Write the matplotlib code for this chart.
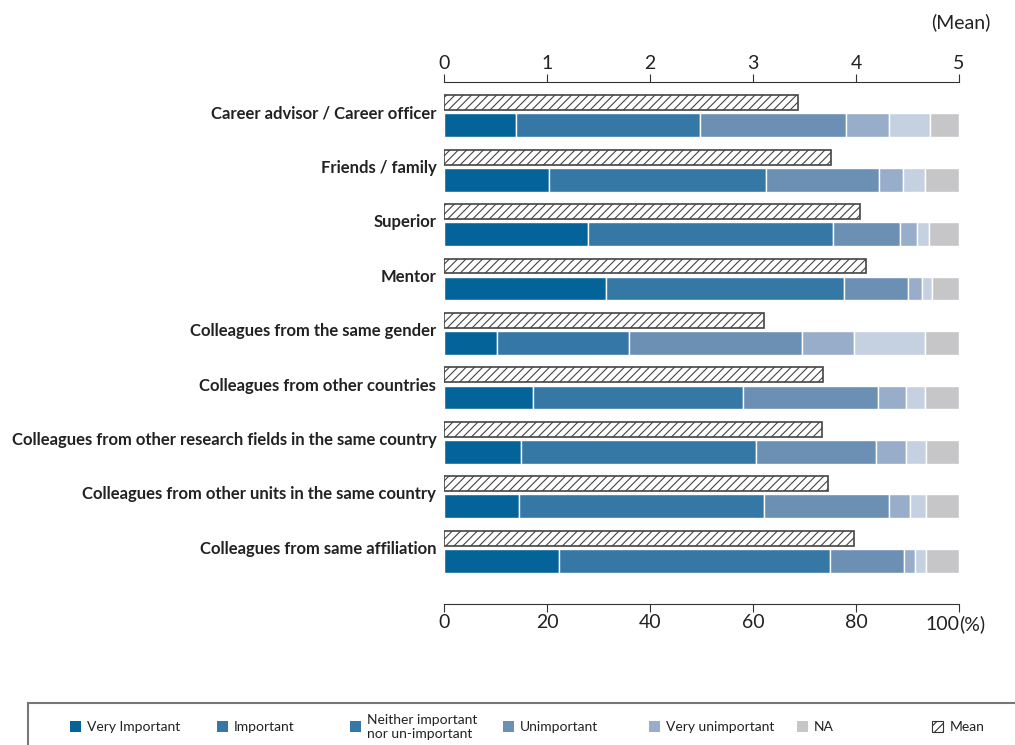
import matplotlib
matplotlib.use("Agg")
import matplotlib.pyplot as plt
import numpy as np
from matplotlib.patches import Rectangle

plt.rcParams['font.family'] = ['Lato', 'DejaVu Sans']
plt.rcParams['hatch.linewidth'] = 0.8

# data
categories = ["Career advisor / Career officer", "Friends / family", "Superior", "Mentor",
              "Colleagues from the same gender", "Colleagues from other countries",
              "Colleagues from other research fields in the same country",
              "Colleagues from other units in the same country",
              "Colleagues from same affiliation"]
very_important = [14.0, 20.4, 27.9, 31.5, 10.2, 17.3, 15.0, 14.6, 22.4]
important = [35.8, 42.2, 47.7, 46.2, 25.8, 40.8, 45.5, 47.5, 52.6]
neither = [28.3, 21.8, 13.0, 12.3, 33.5, 26.1, 23.4, 24.4, 14.3]
unimportant = [8.4, 4.8, 3.3, 2.8, 10.2, 5.6, 5.9, 4.0, 2.2]
very_unimportant = [7.8, 4.2, 2.2, 1.9, 13.7, 3.6, 3.8, 3.1, 2.1]
na = [5.7, 6.6, 5.9, 5.3, 6.6, 6.6, 6.4, 6.4, 6.4]
mean = [3.44, 3.76, 4.04, 4.10, 3.11, 3.68, 3.67, 3.73, 3.98]

series = [very_important, important, neither, unimportant, very_unimportant, na]
bar_colors = ["#04649a", "#3577a5", "#6c8fb4", "#98adc9", "#c5d1e1", "#c6c6c8"]

legend_labels = ["Very Important", "Important", "Neither important\nnor un-important",
                 "Unimportant", "Very unimportant", "NA", "Mean"]
legend_colors = ["#04649a", "#3577a5", "#3577a5", "#6c8fb4", "#98adc9", "#c6c6c8", None]

fig = plt.figure(figsize=(10.15, 7.45), dpi=100)
W, H = 1015, 745
ax = fig.add_axes([444 / W, 1 - 604 / H, (959 - 444) / W, (604 - 82) / H])

y = np.arange(len(categories))
left = np.zeros(len(categories))
for vals, col in zip(series, bar_colors):
    ax.barh(y + 0.22, vals, left=left, height=0.44, color=col, edgecolor="white", linewidth=1.0)
    left += np.array(vals)

ax.set_xlim(0, 100)
ax.set_ylim(9.01, -0.57)

# mean axis on top
axm = ax.twiny()
axm.set_xlim(0, 5)
axm.barh(y - 0.193, mean, height=0.275, color="white", edgecolor="#444444",
         linewidth=1.2, hatch="////")

for a in (ax, axm):
    for s in ("left", "right"):
        a.spines[s].set_visible(False)
    a.tick_params(axis="y", left=False, right=False, labelleft=False)

ax.spines["top"].set_visible(False)
ax.spines["bottom"].set_color("#333333")
axm.spines["bottom"].set_visible(False)
axm.spines["top"].set_color("#333333")

ax.set_xticks([0, 20, 40, 60, 80, 100])
ax.set_xticklabels(["0", "20", "40", "60", "80", ""])
ax.tick_params(axis="x", direction="out", length=6, color="#333333", labelsize=14,
               labelcolor="#222222", pad=1)
ax.annotate("100", xy=(100, 0), xycoords=("data", "axes fraction"), xytext=(0, -18.5),
            textcoords="offset points", ha="right", va="baseline", fontsize=14, color="#222222")
ax.annotate("(%)", xy=(100, 0), xycoords=("data", "axes fraction"), xytext=(0, -18.5),
            textcoords="offset points", ha="left", va="baseline", fontsize=14, color="#222222")
axm.set_xticks([0, 1, 2, 3, 4, 5])
axm.tick_params(axis="x", direction="out", length=6, color="#333333", labelsize=14,
                labelcolor="#222222", pad=1)
fig.text(990 / W, 1 - 22 / H, "(Mean)", ha="right", va="center", fontsize=14, color="#222222")

# category labels
for i, c in enumerate(categories):
    ax.text(-1.5, i, c, ha="right", va="center", fontsize=12, fontweight="bold",
            color="#222222", transform=ax.transData)

# legend box
fig.patches.append(Rectangle((28 / W, -0.01), 1.0, 1 - 703 / H + 0.01, transform=fig.transFigure,
                             facecolor="white", edgecolor="#777777", linewidth=1.5))
leg_x = [70, 217, 350, 503, 649, 797, 933]
for lx, lab, col in zip(leg_x, legend_labels, legend_colors):
    if col is None:
        fig.patches.append(Rectangle(((lx - 1) / W, 1 - 732 / H), 11 / W, 11 / H,
                                     transform=fig.transFigure, facecolor="white",
                                     edgecolor="#333333", linewidth=0.8, hatch="////"))
    else:
        fig.patches.append(Rectangle((lx / W, 1 - 732 / H), 11 / W, 11 / H,
                                     transform=fig.transFigure, facecolor=col, edgecolor="none"))
    fig.text((lx + 17) / W, 1 - 727 / H, lab, ha="left", va="center", fontsize=10,
             color="#222222", linespacing=1.2)

fig.savefig("out.png", dpi=100)
